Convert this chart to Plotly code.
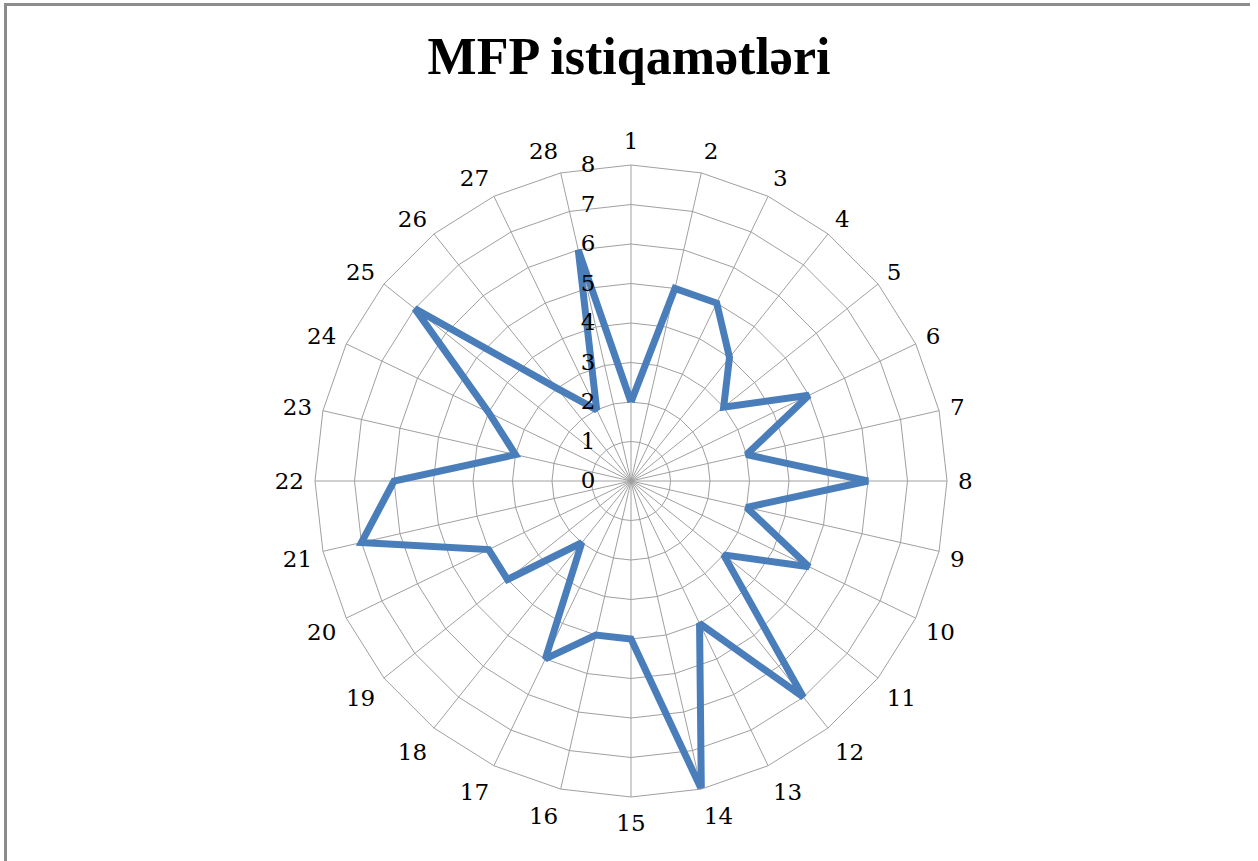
import plotly.graph_objects as go

title_text = "MFP istiqamətləri"
categories = [str(i) for i in range(1, 29)]
values = [2, 5, 5, 4, 3, 5, 3, 6, 3, 5, 3, 7, 4, 8, 4, 4, 5, 2, 4, 4, 7, 6, 3, 4, 7, 3, 2, 6]
radial_ticks = [0, 1, 2, 3, 4, 5, 6, 7, 8]

W, H = 1258, 861
cx, cy, R = 631, 481, 316

fig = go.Figure()
fig.add_trace(go.Scatterpolar(
    r=values + values[:1],
    theta=categories + categories[:1],
    mode="lines",
    line=dict(color="#4a7ebb", width=7),
    showlegend=False,
    hoverinfo="skip",
))

grid = "#a0a0a0"
serif = "Liberation Serif, Times New Roman, serif"
tickserif = "DejaVu Serif, serif"
fig.update_layout(
    width=W, height=H, autosize=False,
    margin=dict(l=0, r=0, t=0, b=0),
    paper_bgcolor="white",
    title=dict(text="<b>" + title_text + "</b>", x=629 / W, xanchor="center",
               y=1 - 56 / H, yanchor="middle", yref="container",
               font=dict(family=serif, size=52, color="black")),
    polar=dict(
        domain=dict(x=[(cx - R) / W, (cx + R) / W], y=[(H - cy - R) / H, (H - cy + R) / H]),
        bgcolor="white",
        gridshape="linear",
        radialaxis=dict(range=[0, 8], tickvals=radial_ticks, angle=90, side="counterclockwise",
                        showline=False, gridcolor=grid, gridwidth=1,
                        ticks="outside", ticklen=27, tickcolor="rgba(0,0,0,0)",
                        tickfont=dict(family=tickserif, size=23, color="black"), tickangle=90),
        angularaxis=dict(direction="clockwise", rotation=90, categoryorder="array",
                         categoryarray=categories, type="category",
                         gridcolor=grid, gridwidth=1, linecolor=grid, linewidth=1, showline=True,
                         ticks="outside", ticklen=6, tickcolor="rgba(0,0,0,0)",
                         tickfont=dict(family=tickserif, size=23, color="black")),
    ),
    shapes=[
        dict(type="line", xref="paper", yref="paper", x0=5.5 / W, x1=5.5 / W, y0=1 - 3 / H, y1=0,
             line=dict(color="#8c8c8c", width=3)),
        dict(type="line", xref="paper", yref="paper", x0=4 / W, x1=1250 / W, y0=1 - 4.5 / H, y1=1 - 4.5 / H,
             line=dict(color="#8c8c8c", width=3)),
    ],
)

fig.write_html("out.html", config={"displayModeBar": False},
               post_script="document.body.style.margin='0';document.body.style.overflow='hidden';")
